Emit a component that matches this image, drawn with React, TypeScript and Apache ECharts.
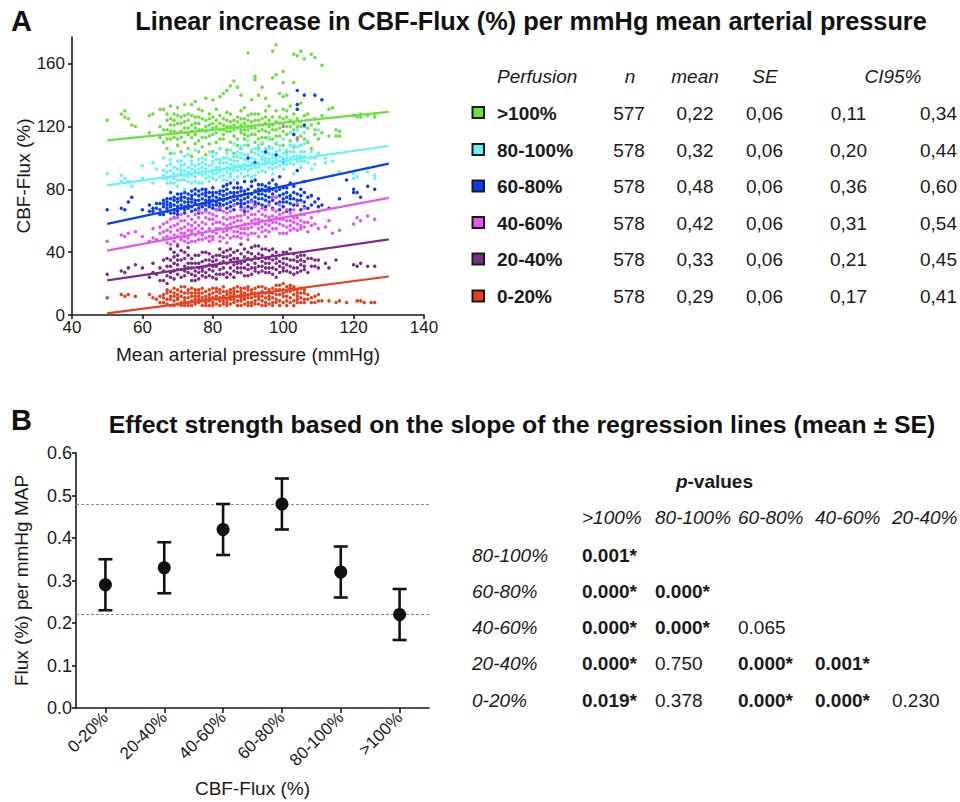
import React, { useEffect, useRef } from 'react';
import * as echarts from 'echarts';

const FONT = '"Liberation Sans", Arial, Helvetica, sans-serif';

// ---------- Panel A data ----------
const groups = ['0-20%', '20-40%', '40-60%', '60-80%', '80-100%', '>100%'];
const groupColors = ['#e8401e', '#7d2a8a', '#e655ee', '#0a3cf0', '#66f3f3', '#6ae23c'];

// scatter columns: [MAP, flux, flux, ...]
const flux0to20 = [
  [50, 11], [54, 13], [55, 12], [56, 13], [58, 12], [62, 13], [63, 11], [64, 10], [65, 12, 8], [66, 8, 13],
  [67, 14, 10], [68, 10, 15, 6], [69, 6, 12, 17], [70, 16, 10, 13, 7], [71, 12, 8, 18], [72, 18, 11, 6],
  [73, 8, 14, 11], [74, 14, 9, 6], [75, 10, 16, 12], [76, 16, 8, 12], [77, 6, 11, 14], [78, 12, 8, 15],
  [79, 9, 13, 6], [80, 14, 8, 11], [81, 7, 12, 15], [82, 11, 6, 14], [83, 15, 9, 12], [84, 8, 13, 10],
  [85, 12, 7, 16], [86, 17, 10, 13], [87, 6, 12, 15], [88, 13, 9, 17, 6], [89, 10, 14, 7], [90, 16, 11, 8, 13],
  [91, 8, 14, 11], [92, 12, 17, 7], [93, 18, 10, 14], [94, 9, 15, 12], [95, 14, 8, 17], [96, 7, 12, 16],
  [97, 11, 17, 8], [98, 16, 10, 13], [99, 13, 19, 9], [100, 20, 12, 16], [101, 9, 15, 18], [102, 15, 11, 19],
  [103, 18, 13, 9], [104, 12, 16, 8], [105, 8, 14], [106, 14, 10], [107, 10, 13], [108, 11, 8], [109, 8, 12],
  [110, 13, 9], [111, 9], [113, 9], [115, 8], [116, 9], [118, 8], [121, 9], [122, 9], [123, 8], [125, 8], [126, 8],
];
const flux0to20Core = [
  [66, 11], [67, 7, 16], [68, 12], [69, 9, 14], [70, 11], [71, 15, 6], [72, 9, 14], [73, 16, 6], [74, 12, 17],
  [75, 7, 14], [76, 10, 14], [77, 9, 17], [78, 10, 6], [79, 11, 16], [80, 17, 6], [81, 10, 17], [82, 9, 16],
  [83, 7, 18], [84, 15, 6], [85, 10, 14], [86, 8, 15], [87, 9, 18], [88, 11, 15], [89, 12, 17], [90, 6, 18],
  [91, 16, 6], [92, 9, 14], [93, 7, 12], [94, 6, 18], [95, 11, 6], [96, 10, 14], [97, 14, 6], [98, 8, 19],
  [99, 16, 6], [100, 8, 14], [101, 12, 6], [102, 8, 17], [103, 16, 6], [104, 10, 14], [105, 11, 17], [106, 8, 16],
];
const flux20to40 = [
  [50, 26], [54, 28], [55, 27], [56, 30], [58, 32], [60, 30], [62, 24], [63, 33, 27], [64, 26], [65, 30, 22],
  [66, 22, 28], [67, 36, 25], [68, 42, 31, 27], [69, 28, 37, 23], [70, 44, 32, 26, 38], [71, 35, 29],
  [72, 25, 40, 31], [73, 38, 27, 33], [74, 30, 22, 36], [75, 22, 33, 28], [76, 33, 27], [77, 40, 30, 25],
  [78, 27, 35, 31], [79, 35, 29], [80, 24, 31, 37], [81, 31, 38, 26], [82, 38, 29, 33], [83, 26, 34, 40],
  [84, 33, 27, 37], [85, 42, 30, 35], [86, 28, 36, 24], [87, 36, 30, 41], [88, 45, 33, 27], [89, 30, 37, 34],
  [90, 25, 40, 32], [91, 39, 30, 35], [92, 33, 44, 28], [93, 44, 36, 31], [94, 28, 38, 34], [95, 36, 30, 42],
  [96, 41, 33, 27], [97, 30, 38, 35], [98, 24, 33, 40], [99, 38, 31], [100, 33, 40, 28], [101, 28, 36],
  [102, 42, 31], [103, 35, 30], [104, 30, 37], [105, 38, 32], [106, 34, 29], [107, 27, 36], [108, 36, 31],
  [109, 31, 35], [110, 35, 30], [112, 33], [113, 30], [115, 35], [120, 32], [121, 31], [122, 33], [124, 31], [126, 31],
];
const flux20to40Core = [
  [66, 35], [67, 31, 20], [68, 35, 24], [69, 33, 40], [70, 29, 35], [71, 41, 24], [72, 36, 28], [73, 30, 43],
  [74, 26, 33], [75, 38, 25], [76, 30, 38, 23], [77, 34, 28], [78, 40, 24], [79, 32, 39, 25], [80, 28, 34],
  [81, 35, 23], [82, 26, 42], [83, 30, 37], [84, 41, 24], [85, 26, 38], [86, 32, 40], [87, 27, 33], [88, 30, 39],
  [89, 25, 42], [90, 36, 29], [91, 26, 43], [92, 37, 30], [93, 27, 39], [94, 42, 31], [95, 27, 33], [96, 36, 30],
  [97, 42, 26], [98, 36, 29], [99, 34, 27], [100, 36, 30], [101, 40, 32], [102, 27, 35], [103, 39, 26],
  [104, 34, 27], [105, 28, 35], [106, 31, 38],
];
const flux40to60 = [
  [50, 47], [54, 51], [55, 50], [56, 52], [58, 53], [60, 50], [62, 47], [63, 55, 49], [64, 48], [65, 52, 56],
  [66, 58, 49], [67, 46, 54], [68, 56, 49, 61], [69, 62, 51], [70, 50, 58, 45], [71, 48, 55, 60],
  [72, 60, 52, 47], [73, 54, 63, 49], [74, 47, 57, 52], [75, 64, 51, 55], [76, 57, 48, 62], [77, 51, 59, 65],
  [78, 66, 53, 49], [79, 55, 61, 50], [80, 48, 58, 64, 53], [81, 59, 52, 67], [82, 68, 55, 50], [83, 53, 62, 58],
  [84, 46, 57, 65, 51], [85, 62, 55, 49], [86, 70, 59, 53], [87, 56, 63, 50], [88, 49, 60, 67, 55],
  [89, 64, 52, 58], [90, 58, 66, 51, 62], [91, 72, 56, 60], [92, 52, 64, 58], [93, 66, 55, 61], [94, 60, 68, 53],
  [95, 54, 63, 58], [96, 70, 57, 62], [97, 63, 75, 55], [98, 75, 59, 66], [99, 58, 64, 52], [100, 52, 61, 120],
  [101, 67, 56], [102, 60, 54], [103, 55, 62], [104, 71, 58, 112], [105, 57, 64], [106, 64, 56], [107, 53, 59],
  [108, 62, 57], [109, 58], [110, 66, 55], [112, 56], [113, 60], [114, 52], [116, 54], [120, 58], [121, 62],
  [122, 60], [124, 63], [126, 61],
];
const flux40to60Core = [
  [66, 53], [67, 50, 59], [68, 53, 45], [69, 47, 57], [70, 54, 62], [71, 52, 64], [72, 56, 50], [73, 58, 46],
  [74, 61, 54], [75, 47, 59], [76, 53, 66], [77, 55, 48], [78, 58, 62], [79, 47, 65], [80, 61, 50], [81, 55, 63],
  [82, 59, 47], [83, 49, 66], [84, 61, 54], [85, 58, 66], [86, 50, 62], [87, 60, 53], [88, 63, 52], [89, 55, 68],
  [90, 55, 48], [91, 52, 64], [92, 61, 69], [93, 58, 50], [94, 56, 64], [95, 67, 50], [96, 60, 53], [97, 59, 67],
  [98, 62, 55], [99, 61, 70], [100, 57, 65], [101, 60, 52], [102, 65, 57], [103, 59, 67], [104, 62, 54],
  [105, 60, 55], [106, 59, 68],
];
const flux60to80 = [
  [50, 67], [54, 68], [55, 67], [56, 72], [57, 75], [60, 67], [62, 70, 66], [63, 66, 68], [64, 68, 71],
  [65, 71, 64, 67], [66, 64, 69, 73], [67, 74, 66, 70], [68, 78, 65, 71], [69, 70, 75, 67, 62],
  [70, 66, 72, 77, 69], [71, 77, 68, 73], [72, 72, 65, 78, 69], [73, 68, 74, 70], [74, 79, 66, 72, 76],
  [75, 71, 77, 67], [76, 65, 73, 79, 70], [77, 74, 69, 77], [78, 80, 67, 73, 76], [79, 69, 75, 71],
  [80, 76, 70, 81, 73], [81, 72, 78, 67], [82, 67, 74, 79, 71], [83, 82, 70, 76], [84, 74, 80, 68, 77],
  [85, 78, 72, 84], [86, 70, 76, 81, 73], [87, 84, 71, 78], [88, 76, 81, 69, 73], [89, 66, 79, 85, 74],
  [90, 80, 72, 77, 100], [91, 73, 82, 68], [92, 86, 75, 79, 97], [93, 77, 71, 83], [94, 70, 80, 74],
  [95, 82, 76, 104, 69], [96, 75, 84, 79], [97, 68, 73, 86], [98, 79, 102, 71], [99, 88, 76, 67],
  [100, 74, 81, 98, 69], [101, 66, 78, 72], [102, 71, 84, 67], [103, 78, 115, 70], [104, 92, 143, 134, 131, 73],
  [105, 73, 67], [106, 85, 121, 140, 72], [107, 68, 75], [108, 76, 70], [109, 72, 140], [110, 74, 69],
  [111, 70, 137], [113, 68], [116, 74], [118, 86], [120, 80, 78], [121, 78], [122, 75], [124, 82], [126, 80],
];
const flux60to80Core = [
  [66, 71], [67, 68, 72], [68, 69, 74], [69, 73, 65], [70, 74, 64], [71, 70, 75], [72, 75, 67], [73, 72, 77],
  [74, 69, 74], [75, 73, 80], [76, 68, 76], [77, 71, 80], [78, 70, 78], [79, 73, 78], [80, 78, 68], [81, 75, 70],
  [82, 77, 69], [83, 73, 79], [84, 71, 83], [85, 75, 69], [86, 78, 67], [87, 74, 81], [88, 79, 71], [89, 77, 71],
  [90, 75, 69], [91, 77, 85], [92, 72, 70], [93, 80, 74], [94, 77, 83], [95, 73, 79], [96, 72, 81], [97, 77, 80],
  [98, 75, 83], [99, 80, 72], [100, 77, 72], [101, 75, 81], [102, 76, 74], [103, 74, 82], [104, 77, 70],
  [105, 76, 80], [106, 78, 69],
];
const flux80to100 = [
  [50, 90], [54, 89, 85], [55, 87], [56, 85], [57, 82], [60, 95, 87], [63, 97, 84], [64, 93], [66, 100, 87, 92],
  [67, 87, 95], [68, 92, 84, 99], [69, 84, 103, 90], [70, 98, 89, 82], [71, 90, 86, 95], [72, 86, 101, 92, 80],
  [73, 102, 88, 94], [74, 93, 84, 98], [75, 88, 105, 92], [76, 96, 84, 90], [77, 84, 100, 94, 89],
  [78, 99, 87, 93], [79, 91, 104, 85], [80, 87, 96, 101, 92], [81, 103, 90, 86], [82, 94, 99, 88, 106],
  [83, 89, 97, 93], [84, 97, 86, 103, 91], [85, 105, 93, 88, 99], [86, 86, 101, 95, 109], [87, 92, 98, 104, 88],
  [88, 100, 90, 95, 107], [89, 108, 93, 88, 99], [90, 95, 102, 89, 111], [91, 88, 97, 105, 93],
  [92, 103, 94, 99, 89], [93, 97, 108, 91, 102], [94, 110, 96, 92, 104], [95, 91, 100, 106, 96],
  [96, 99, 94, 113, 103], [97, 106, 96, 100, 90], [98, 94, 104, 110, 99], [99, 101, 95, 108],
  [100, 112, 98, 103, 93], [101, 96, 105, 100], [102, 104, 97, 116], [103, 90, 101, 108], [104, 107, 98, 118],
  [105, 98, 104, 94], [106, 116, 101, 109], [107, 111, 97], [108, 93, 100, 104], [109, 100, 96], [110, 118, 103],
  [112, 97, 100], [114, 89, 98], [116, 91], [120, 90, 87], [121, 88], [124, 91], [126, 89, 87],
];
const flux80to100Core = [
  [66, 89], [67, 91, 84], [68, 96, 88], [69, 87, 94], [70, 93, 86], [71, 92, 98], [72, 89, 96], [73, 91, 85],
  [74, 89, 96], [75, 95, 85], [76, 93, 99], [77, 97, 91], [78, 90, 96], [79, 88, 95], [80, 90, 98], [81, 94, 99],
  [82, 91, 97], [83, 100, 86], [84, 94, 100], [85, 96, 90], [86, 92, 98], [87, 95, 101], [88, 93, 103],
  [89, 96, 102], [90, 98, 92], [91, 100, 95], [92, 96, 106], [93, 94, 105], [94, 99, 101], [95, 98, 103],
  [96, 97, 106], [97, 102, 93], [98, 97, 101], [99, 98, 105], [100, 100, 96], [101, 102, 98], [102, 100, 108],
  [103, 104, 96], [104, 101, 111], [105, 101, 108], [106, 104, 98],
];
const fluxOver100 = [
  [50, 124], [54, 128], [55, 126, 130], [56, 125], [57, 121], [58, 120], [62, 127, 116], [63, 128],
  [65, 120, 113, 131], [66, 131, 110], [67, 118, 124, 106], [68, 125, 112, 103, 133], [69, 113, 121, 128],
  [70, 132, 116, 108, 122], [71, 122, 104, 117], [72, 116, 127, 110, 134], [73, 128, 119, 106],
  [74, 134, 113, 121, 101], [75, 119, 126, 109, 136], [76, 126, 111, 131, 104], [77, 130, 118, 107],
  [78, 113, 124, 138, 102], [79, 121, 109, 128], [80, 137, 115, 122, 104], [81, 124, 110, 131],
  [82, 139, 118, 106, 127], [83, 118, 112, 125, 141], [84, 129, 105, 120, 143], [85, 146, 117, 110, 123],
  [86, 149, 124, 103, 114], [87, 126, 145, 108, 119], [88, 140, 116, 121, 130, 106], [89, 132, 112, 118, 125],
  [90, 120, 167, 108, 127, 114], [91, 137, 115, 123, 104], [92, 152, 119, 110, 128, 150], [93, 128, 140, 112, 121, 106],
  [94, 118, 145, 125, 109], [95, 138, 113, 122, 130], [96, 133, 107, 120, 116], [97, 168, 126, 112, 151],
  [98, 172, 118, 130, 109, 153], [99, 126, 114, 141], [100, 148, 122, 108, 131, 155, 139], [101, 140, 115, 126, 104],
  [102, 124, 111, 133], [103, 166, 118, 107, 148], [104, 165, 125, 113], [105, 168, 120, 108, 135],
  [106, 163, 116, 127], [107, 119, 110, 128], [108, 166, 121, 106], [109, 164, 118, 125, 115], [110, 112, 122],
  [111, 159, 116, 127], [113, 131, 114], [114, 132], [115, 114, 118], [116, 114, 117], [120, 127], [121, 126],
  [122, 126, 128], [124, 127], [126, 126, 128],
];
const fluxOver100Core = [
  [66, 118], [67, 112, 128], [68, 117, 121], [69, 117, 124], [70, 112, 127], [71, 113, 126], [72, 119, 123],
  [73, 115, 124], [74, 117, 127], [75, 115, 122], [76, 118, 122], [77, 113, 125], [78, 117, 120], [79, 114, 125],
  [80, 119, 126], [81, 116, 120], [82, 112, 122], [83, 115, 121], [84, 117, 124], [85, 120, 128], [86, 118, 121],
  [87, 112, 123], [88, 118, 125], [89, 115, 122], [90, 118, 124], [91, 119, 128], [92, 115, 124], [93, 117, 124],
  [94, 113, 121], [95, 117, 126], [96, 112, 124], [97, 118, 121], [98, 114, 123], [99, 119, 122], [100, 117, 125],
  [101, 120, 130], [102, 116, 120], [103, 122, 128], [104, 118, 120], [105, 114, 123], [106, 120, 112],
];
const scatterColumns = [
  flux0to20.concat(flux0to20Core),
  flux20to40.concat(flux20to40Core),
  flux40to60.concat(flux40to60Core),
  flux60to80.concat(flux60to80Core),
  flux80to100.concat(flux80to100Core),
  fluxOver100.concat(fluxOver100Core),
];

// regression lines (value at MAP 50 and MAP 130)
const regX = [50, 130];
const regAtStart = [1, 22, 41, 58, 82.5, 111.2];
const regAtEnd = [24.5, 48.2, 74.6, 96.4, 107.6, 129.3];

// table A
const tableN = [578, 578, 578, 578, 578, 577];
const slopeMean = [0.29, 0.33, 0.42, 0.48, 0.32, 0.22];
const slopeSE = [0.06, 0.06, 0.06, 0.06, 0.06, 0.06];
const ci95Low = [0.17, 0.21, 0.31, 0.36, 0.2, 0.11];
const ci95High = [0.41, 0.45, 0.54, 0.6, 0.44, 0.34];

// axis ticks
const mapTicks = [40, 60, 80, 100, 120, 140];
const fluxTicks = [0, 40, 80, 120, 160];

// ---------- Panel B data ----------
const refLines = [0.48, 0.22];
const pRows = ['80-100%', '60-80%', '40-60%', '20-40%', '0-20%'];
const pCols = ['>100%', '80-100%', '60-80%', '40-60%', '20-40%'];
const pValues = [
  [0.001],
  [0.0, 0.0],
  [0.0, 0.0, 0.065],
  [0.0, 0.75, 0.0, 0.001],
  [0.019, 0.378, 0.0, 0.0, 0.23],
];

function flatten(cols: number[][]): number[][] {
  const out: number[][] = [];
  cols.forEach((c) => {
    for (let i = 1; i < c.length; i++) out.push([c[0], c[i]]);
  });
  return out;
}

const comma = (v: number) => v.toFixed(2).replace('.', ',');

function buildOption() {
  const txt = (text: string, x: number, y: number, font: string, align = 'left', fill = '#1a1a1a') => ({
    type: 'text',
    x,
    y,
    silent: true,
    style: {
      text,
      font,
      fill,
      textAlign: align,
      textVerticalAlign: 'middle',
      align,
      verticalAlign: 'middle',
    },
  });
  const F = (sz: number, w = '', s = '') => `${s} ${w} ${sz}px ${FONT}`.trim();

  const graphics: any[] = [];
  graphics.push(txt('A', 11, 21, F(29, 'bold'), 'left', '#111'));
  graphics.push(txt('Linear increase in CBF-Flux (%) per mmHg mean arterial pressure', 531, 21, F(25.3, 'bold'), 'center', '#111'));
  graphics.push(txt('B', 11, 420, F(29, 'bold'), 'left', '#111'));
  graphics.push(txt('Effect strength based on the slope of the regression lines (mean \u00b1 SE)', 522, 424, F(24.8, 'bold'), 'center', '#111'));

  // Table A header
  const hy = 76;
  graphics.push(txt('Perfusion', 497, hy, F(19, '', 'italic'), 'left'));
  graphics.push(txt('n', 630, hy, F(19, '', 'italic'), 'center'));
  graphics.push(txt('mean', 695, hy, F(19, '', 'italic'), 'center'));
  graphics.push(txt('SE', 765, hy, F(19, '', 'italic'), 'center'));
  graphics.push(txt('CI95%', 893, hy, F(19, '', 'italic'), 'center'));
  const rowY = [113, 150, 186.5, 223, 259.5, 296.5];
  for (let r = 0; r < 6; r++) {
    const g = 5 - r;
    const y = rowY[r];
    graphics.push({
      type: 'rect',
      silent: true,
      shape: { x: 472.5, y: y - 6, width: 11.5, height: 11 },
      style: { fill: groupColors[g], stroke: '#1a1a1a', lineWidth: 2 },
    });
    graphics.push(txt(groups[g], 497, y, F(19, 'bold'), 'left'));
    graphics.push(txt(String(tableN[g]), 629, y, F(19), 'center'));
    graphics.push(txt(comma(slopeMean[g]), 695, y, F(19), 'center'));
    graphics.push(txt(comma(slopeSE[g]), 764.5, y, F(19), 'center'));
    graphics.push(txt(comma(ci95Low[g]), 848.5, y, F(19), 'center'));
    graphics.push(txt(comma(ci95High[g]), 938.5, y, F(19), 'center'));
  }

  // p-values table
  graphics.push(txt('p', 676, 481, F(19, 'bold', 'italic'), 'left'));
  graphics.push(txt('-values', 687.5, 481, F(19, 'bold'), 'left'));
  const colX = [582, 655, 738, 815, 892];
  const pRowY = [555, 591.5, 627, 663.5, 700];
  pCols.forEach((c, i) => graphics.push(txt(c, colX[i], 517.5, F(19, '', 'italic'), 'left')));
  pRows.forEach((rname, r) => {
    graphics.push(txt(rname, 472, pRowY[r], F(19, '', 'italic'), 'left'));
    pValues[r].forEach((p, c) => {
      const sig = p < 0.05;
      graphics.push(txt(p.toFixed(3) + (sig ? '*' : ''), colX[c], pRowY[r], F(19, sig ? 'bold' : ''), 'left'));
    });
  });

  const axisLineStyle = { color: '#1a1a1a', width: 1.6 };
  const series: any[] = [];
  // scatter (green drawn first, red on top)
  for (let g = 5; g >= 0; g--) {
    series.push({
      type: 'scatter',
      name: groups[g],
      xAxisIndex: 0,
      yAxisIndex: 0,
      data: flatten(scatterColumns[g]),
      symbol: 'circle',
      symbolSize: 3.5,
      itemStyle: { color: groupColors[g], opacity: 1 },
      silent: true,
      z: 2,
    });
  }
  for (let g = 0; g < 6; g++) {
    series.push({
      type: 'line',
      xAxisIndex: 0,
      yAxisIndex: 0,
      data: [
        [regX[0], regAtStart[g]],
        [regX[1], regAtEnd[g]],
      ],
      showSymbol: false,
      symbol: 'none',
      lineStyle: { color: groupColors[g], width: 2.2 },
      silent: true,
      z: 5,
    });
  }
  // Panel B error bars
  series.push({
    type: 'custom',
    xAxisIndex: 1,
    yAxisIndex: 1,
    data: slopeMean.map((m, i) => [i, m - slopeSE[i], m + slopeSE[i]]),
    encode: { x: 0, y: [1, 2] },
    silent: true,
    z: 4,
    renderItem: (params: any, api: any) => {
      const i = api.value(0);
      const lo = api.coord([i, api.value(1)]);
      const hi = api.coord([i, api.value(2)]);
      const w = 7;
      const st = { stroke: '#111', lineWidth: 2.6 };
      return {
        type: 'group',
        children: [
          { type: 'line', shape: { x1: lo[0], y1: lo[1], x2: hi[0], y2: hi[1] }, style: st },
          { type: 'line', shape: { x1: lo[0] - w, y1: lo[1], x2: lo[0] + w, y2: lo[1] }, style: st },
          { type: 'line', shape: { x1: hi[0] - w, y1: hi[1], x2: hi[0] + w, y2: hi[1] }, style: st },
        ],
      };
    },
  });
  series.push({
    type: 'scatter',
    xAxisIndex: 1,
    yAxisIndex: 1,
    data: slopeMean.map((m, i) => [i, m]),
    symbol: 'circle',
    symbolSize: 13,
    itemStyle: { color: '#111', opacity: 1 },
    silent: true,
    z: 6,
    markLine: {
      silent: true,
      symbol: 'none',
      label: { show: false },
      lineStyle: { color: '#8a8a8a', type: [3, 2], width: 1.2 },
      data: refLines.map((v) => ({ yAxis: v })),
      z: 1,
    },
  });

  return {
    animation: false,
    backgroundColor: '#ffffff',
    textStyle: { fontFamily: FONT },
    grid: [
      { left: 72, top: 37, width: 352, height: 278 },
      { left: 76, top: 453, width: 353, height: 255 },
    ],
    xAxis: [
      {
        type: 'value',
        gridIndex: 0,
        min: 40,
        max: 140,
        interval: 20,
        splitLine: { show: false },
        axisLine: { show: true, lineStyle: axisLineStyle },
        axisTick: { show: true, length: 4, lineStyle: axisLineStyle, customValues: mapTicks },
        axisLabel: { fontSize: 17, color: '#1a1a1a', margin: 4, fontFamily: FONT, customValues: mapTicks },
        name: 'Mean arterial pressure (mmHg)',
        nameLocation: 'middle',
        nameGap: 30,
        nameTextStyle: { fontSize: 19, color: '#1a1a1a', fontFamily: FONT },
      },
      {
        type: 'category',
        gridIndex: 1,
        data: groups,
        boundaryGap: true,
        splitLine: { show: false },
        axisLine: { show: true, lineStyle: axisLineStyle },
        axisTick: { show: true, alignWithLabel: true, length: 5, lineStyle: axisLineStyle },
        axisLabel: { fontSize: 17, color: '#1a1a1a', rotate: 45, margin: 7, fontFamily: FONT, interval: 0 },
        name: 'CBF-Flux (%)',
        nameLocation: 'middle',
        nameGap: 71,
        nameTextStyle: { fontSize: 19, color: '#1a1a1a', fontFamily: FONT },
      },
    ],
    yAxis: [
      {
        type: 'value',
        gridIndex: 0,
        min: 0,
        max: 177,
        interval: 40,
        splitLine: { show: false },
        axisLine: { show: true, lineStyle: axisLineStyle },
        axisTick: { show: true, length: 4, lineStyle: axisLineStyle, customValues: fluxTicks },
        axisLabel: { fontSize: 17, color: '#1a1a1a', margin: 7, fontFamily: FONT, customValues: fluxTicks },
        name: 'CBF-Flux (%)',
        nameLocation: 'middle',
        nameGap: 39,
        nameRotate: 90,
        nameTextStyle: { fontSize: 19, color: '#1a1a1a', fontFamily: FONT },
      },
      {
        type: 'value',
        gridIndex: 1,
        min: 0,
        max: 0.6,
        interval: 0.1,
        splitLine: { show: false },
        axisLine: { show: true, lineStyle: axisLineStyle },
        axisTick: { show: true, length: 4, lineStyle: axisLineStyle },
        axisLabel: {
          fontSize: 18,
          color: '#1a1a1a',
          margin: 4,
          fontFamily: FONT,
          formatter: (v: number) => v.toFixed(1),
        },
        name: 'Flux (%) per mmHg MAP',
        nameLocation: 'middle',
        nameGap: 45,
        nameRotate: 90,
        nameTextStyle: { fontSize: 19, color: '#1a1a1a', fontFamily: FONT },
      },
    ],
    series,
    graphic: { elements: graphics },
  };
}

export default function App() {
  const ref = useRef<HTMLDivElement>(null);
  useEffect(() => {
    document.body.style.margin = '0';
    const chart = echarts.init(ref.current as HTMLDivElement, undefined, { renderer: 'svg' });
    chart.setOption(buildOption() as any);
    return () => chart.dispose();
  }, []);
  return <div ref={ref} style={{ width: 960, height: 802, background: '#fff' }} />;
}
